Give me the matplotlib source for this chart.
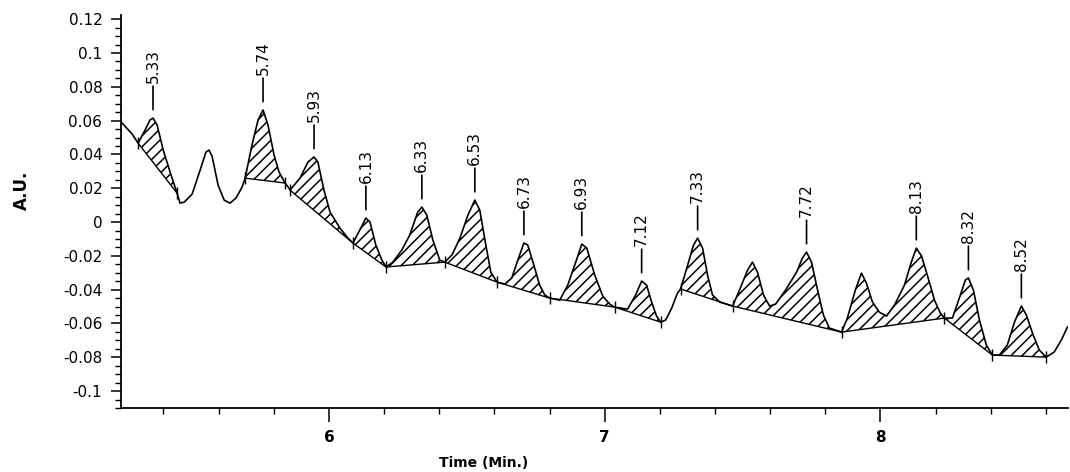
import numpy as np
import matplotlib
matplotlib.use("Agg")
import matplotlib.pyplot as plt
from matplotlib.ticker import MultipleLocator

plt.rcParams['axes.unicode_minus'] = False
plt.rcParams['hatch.linewidth'] = 1.1

# chromatogram trace (time in min, absorbance in A.U.)
time = [5.250, 5.286, 5.308, 5.333, 5.351, 5.362, 5.377, 5.399, 5.424, 5.449,
        5.460, 5.475, 5.504, 5.533, 5.554, 5.565, 5.576, 5.598, 5.620, 5.641,
        5.663, 5.685, 5.696, 5.721, 5.743, 5.761, 5.779, 5.801, 5.819, 5.841,
        5.855, 5.859, 5.895, 5.924, 5.946, 5.960, 5.982, 6.004, 6.040, 6.069,
        6.087, 6.112, 6.134, 6.149, 6.170, 6.192, 6.207, 6.232, 6.264, 6.293,
        6.322, 6.337, 6.355, 6.377, 6.402, 6.420, 6.446, 6.475, 6.504, 6.529,
        6.547, 6.569, 6.587, 6.609, 6.638, 6.663, 6.685, 6.707, 6.721, 6.743,
        6.764, 6.783, 6.801, 6.837, 6.866, 6.895, 6.917, 6.935, 6.964, 6.993,
        7.018, 7.036, 7.083, 7.112, 7.134, 7.152, 7.170, 7.188, 7.203, 7.221,
        7.243, 7.264, 7.275, 7.301, 7.322, 7.337, 7.355, 7.373, 7.391, 7.417,
        7.464, 7.489, 7.518, 7.536, 7.554, 7.576, 7.598, 7.620, 7.656, 7.696,
        7.717, 7.732, 7.750, 7.772, 7.793, 7.815, 7.859, 7.880, 7.909, 7.931,
        7.949, 7.971, 7.996, 8.022, 8.051, 8.087, 8.112, 8.130, 8.149, 8.170,
        8.196, 8.217, 8.232, 8.261, 8.286, 8.308, 8.319, 8.337, 8.359, 8.384,
        8.406, 8.431, 8.460, 8.486, 8.511, 8.529, 8.554, 8.576, 8.601, 8.630,
        8.656, 8.678]
au = [0.0586, 0.0521, 0.0467, 0.0544, 0.0604, 0.0615, 0.0574, 0.0426, 0.0296, 0.0172,
      0.0112, 0.0118, 0.0166, 0.0308, 0.0414, 0.0426, 0.0391, 0.0219, 0.0130, 0.0112,
      0.0142, 0.0207, 0.0260, 0.0456, 0.0604, 0.0663, 0.0574, 0.0396, 0.0296, 0.0231,
      0.0201, 0.0189, 0.0260, 0.0355, 0.0385, 0.0355, 0.0189, 0.0059, -0.0036, -0.0095,
      -0.0124, -0.0047, 0.0024, 0.0000, -0.0136, -0.0225, -0.0266, -0.0237, -0.0166, -0.0077,
      0.0059, 0.0089, 0.0041, -0.0107, -0.0225, -0.0237, -0.0195, -0.0095, 0.0041, 0.0130,
      0.0071, -0.0136, -0.0296, -0.0355, -0.0367, -0.0331, -0.0225, -0.0124, -0.0136, -0.0254,
      -0.0373, -0.0432, -0.0450, -0.0462, -0.0373, -0.0237, -0.0130, -0.0154, -0.0314, -0.0438,
      -0.0485, -0.0503, -0.0515, -0.0432, -0.0349, -0.0373, -0.0473, -0.0556, -0.0592, -0.0580,
      -0.0509, -0.0420, -0.0396, -0.0254, -0.0136, -0.0095, -0.0154, -0.0314, -0.0432, -0.0473,
      -0.0497, -0.0402, -0.0284, -0.0237, -0.0296, -0.0432, -0.0497, -0.0485, -0.0402, -0.0296,
      -0.0213, -0.0178, -0.0237, -0.0402, -0.0550, -0.0627, -0.0651, -0.0568, -0.0402, -0.0302,
      -0.0361, -0.0473, -0.0533, -0.0556, -0.0491, -0.0373, -0.0237, -0.0154, -0.0201, -0.0314,
      -0.0462, -0.0538, -0.0568, -0.0568, -0.0450, -0.0343, -0.0331, -0.0402, -0.0580, -0.0728,
      -0.0787, -0.0787, -0.0728, -0.0592, -0.0497, -0.0550, -0.0669, -0.0757, -0.0799, -0.0769,
      -0.0698, -0.0621]

# integration baselines (drop points) under the hatched peaks
base_t = [[5.308, 5.449],
          [5.696, 5.841],
          [5.859, 6.087, 6.207, 6.420, 6.609, 6.801, 7.036, 7.203],
          [7.275, 7.464, 7.859, 8.232, 8.406, 8.601]]
base_au = [[0.0467, 0.0172],
           [0.0260, 0.0231],
           [0.0189, -0.0124, -0.0266, -0.0237, -0.0355, -0.0450, -0.0503, -0.0592],
           [-0.0396, -0.0497, -0.0651, -0.0568, -0.0787, -0.0799]]

# labelled retention times
peak_t = [5.362, 5.761, 5.946, 6.134, 6.337, 6.529, 6.707, 6.917, 7.134, 7.337,
          7.732, 8.130, 8.319, 8.511]
peak_labels = ["5.33", "5.74", "5.93", "6.13", "6.33", "6.53", "6.73", "6.93", "7.12",
               "7.33", "7.72", "8.13", "8.32", "8.52"]

y_ticks = [-0.1, -0.08, -0.06, -0.04, -0.02, 0, 0.02, 0.04, 0.06, 0.08, 0.1, 0.12]
y_tick_labels = ["-0.1", "-0.08", "-0.06", "-0.04", "-0.02", "0", "0.02", "0.04",
                 "0.06", "0.08", "0.1", "0.12"]
x_ticks = [6, 7, 8]

t = np.array(time)
a = np.array(au)

fig = plt.figure(figsize=(10.70, 4.72), dpi=100)
ax = fig.add_axes([0.1131, 0.1356, 0.885, 0.8326])

for bt, ba in zip(base_t, base_au):
    m = (t >= bt[0]) & (t <= bt[-1])
    base = np.interp(t[m], bt, ba)
    ax.fill_between(t[m], a[m], base, facecolor='none', edgecolor='black',
                    hatch='///', linewidth=0)
    ax.plot(bt, ba, color='black', lw=1.0, marker='|', ms=9, mew=1.0)

ax.plot(t, a, color='black', lw=1.2)

for pt, lab in zip(peak_t, peak_labels):
    pv = np.interp(pt, t, a)
    ax.annotate(lab, xy=(pt, pv), xytext=(0, 25), textcoords='offset points',
                rotation=90, ha='center', va='bottom', fontsize=11,
                arrowprops=dict(arrowstyle='-', color='black', lw=1.2,
                                shrinkA=0, shrinkB=6))

ax.set_xlim(5.246, 8.68)
ax.set_ylim(-0.110, 0.1225)

ax.spines['top'].set_visible(False)
ax.spines['right'].set_visible(False)
ax.spines['left'].set_linewidth(1.3)
ax.spines['bottom'].set_linewidth(1.3)

ax.set_yticks(y_ticks)
ax.set_yticklabels(y_tick_labels, fontsize=11)
ax.yaxis.set_minor_locator(MultipleLocator(0.005))
ax.tick_params(axis='y', which='major', length=7.5, width=1.1, pad=6)
ax.tick_params(axis='y', which='minor', length=4, width=1.0)

ax.set_xticks(x_ticks)
ax.set_xticklabels([str(v) for v in x_ticks], fontsize=11, fontweight='bold')
ax.xaxis.set_minor_locator(MultipleLocator(0.2))
ax.tick_params(axis='x', which='major', length=10, width=1.1, pad=6)
ax.tick_params(axis='x', which='minor', length=4.5, width=1.0)

ax.set_xlabel("Time (Min.)", fontsize=10, fontweight='bold', va='center')
ax.xaxis.set_label_coords(0.383, -0.14)
ax.set_ylabel("A.U.", fontsize=12, fontweight='bold', va='center', ha='center')
ax.yaxis.set_label_coords(-0.105, 0.555)

fig.savefig("out.png", dpi=100)
